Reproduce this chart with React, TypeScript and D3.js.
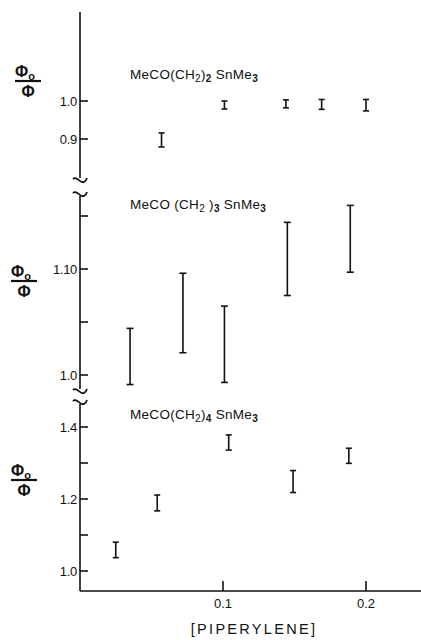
import React from "react";
import * as d3 from "d3";

// ---- data ----
const xTicks = [0.1, 0.2];
const xTickLabels = ["0.1", "0.2"];
const xTitle = "[PIPERYLENE]";

// Panel 1: MeCO(CH2)2SnMe3
const p1X = [0.057, 0.101, 0.144, 0.169, 0.2];
const p1Lo = [0.879, 0.979, 0.982, 0.978, 0.974];
const p1Hi = [0.916, 1.0, 1.003, 1.004, 1.004];
const p1Ticks = [0.9, 1.0];
const p1TickLabels = ["0.9", "1.0"];

// Panel 2: MeCO(CH2)3SnMe3
const p2X = [0.035, 0.072, 0.101, 0.145, 0.189];
const p2Lo = [0.991, 1.021, 0.993, 1.075, 1.097];
const p2Hi = [1.044, 1.096, 1.065, 1.144, 1.16];
const p2Ticks = [1.0, 1.05, 1.1, 1.15];
const p2TickLabels = ["1.0", "", "1.10", ""];

// Panel 3: MeCO(CH2)4SnMe3
const p3X = [0.025, 0.054, 0.104, 0.149, 0.188];
const p3Lo = [1.037, 1.167, 1.336, 1.218, 1.299];
const p3Hi = [1.08, 1.211, 1.378, 1.279, 1.341];
const p3Ticks = [1.0, 1.1, 1.2, 1.3, 1.4];
const p3TickLabels = ["1.0", "", "1.2", "", "1.4"];

const FONT = "'Liberation Sans', Arial, sans-serif";

const W = 421;
const H = 640;
const AX = 80; // y-axis x position
const XAXIS_Y = 591;

const x = d3.scaleLinear().domain([0, 0.1]).range([AX, 223]);

type Panel = {
  xs: number[];
  lo: number[];
  hi: number[];
  ticks: number[];
  labels: string[];
  y: d3.ScaleLinear<number, number>;
  top: number;
  bottom: number;
  topBreak: boolean;
  bottomBreak: boolean;
  capW: number;
  sub: string;
  spaced: boolean;
  labelY: number;
  fracY: number;
  fracX: number;
};

const panels: Panel[] = [
  {
    xs: p1X, lo: p1Lo, hi: p1Hi, ticks: p1Ticks, labels: p1TickLabels,
    y: d3.scaleLinear().domain([0.9, 1.0]).range([139, 101]),
    top: 12, bottom: 178, topBreak: false, bottomBreak: true, capW: 6,
    sub: "2", spaced: false, labelY: 79, fracY: 81, fracX: 28,
  },
  {
    xs: p2X, lo: p2Lo, hi: p2Hi, ticks: p2Ticks, labels: p2TickLabels,
    y: d3.scaleLinear().domain([1.0, 1.1]).range([375, 269]),
    top: 196, bottom: 389, topBreak: true, bottomBreak: true, capW: 7,
    sub: "3", spaced: true, labelY: 209, fracY: 281, fracX: 24,
  },
  {
    xs: p3X, lo: p3Lo, hi: p3Hi, ticks: p3Ticks, labels: p3TickLabels,
    y: d3.scaleLinear().domain([1.0, 1.4]).range([571, 427]),
    top: 404, bottom: XAXIS_Y, topBreak: true, bottomBreak: false, capW: 6,
    sub: "4", spaced: false, labelY: 419, fracY: 480, fracX: 24,
  },
];

function tilde(cx: number, cy: number) {
  const p = d3.path();
  p.moveTo(cx - 7, cy - 1);
  p.bezierCurveTo(cx - 3, cy - 5, cx + 0, cy + 4, cx + 4, cy + 2);
  p.quadraticCurveTo(cx + 6, cy + 1, cx + 7, cy - 2);
  return p.toString();
}

function Frac({ cx, cy }: { cx: number; cy: number }) {
  return (
    <g fontFamily={FONT} fontWeight="bold" fill="#111">
      <text x={cx - 3} y={cy - 4} fontSize={16} textAnchor="middle">
        Φ
        <tspan fontSize={11} dy={3}>o</tspan>
      </text>
      <line x1={cx - 13} x2={cx + 13} y1={cy} y2={cy} stroke="#111" strokeWidth={2.2} />
      <text x={cx} y={cy + 16} fontSize={16} textAnchor="middle">Φ</text>
    </g>
  );
}

function CompoundLabel({ yPos, sub, spaced }: { yPos: number; sub: string; spaced: boolean }) {
  const s = spaced ? " " : "";
  return (
    <text x={130} y={yPos} fontFamily={FONT} fontSize={13.5} fill="#111" letterSpacing={0.3}>
      {`MeCO${s}(CH`}
      <tspan fontSize={10} dy={3}>2</tspan>
      <tspan dy={-3}>{`${s})`}</tspan>
      <tspan fontSize={10} dy={3} fontWeight="bold">{sub}</tspan>
      <tspan dy={-3}>{" SnMe"}</tspan>
      <tspan fontSize={10} dy={3} fontWeight="bold">3</tspan>
    </text>
  );
}

export default function App() {
  return (
    <svg
      width={W}
      height={H}
      viewBox={`0 0 ${W} ${H}`}
      style={{ position: "absolute", left: 0, top: 0, background: "#fff" }}
    >
      <rect width={W} height={H} fill="#fff" />
      {panels.map((p, pi) => (
        <g key={pi}>
          {/* axis segment */}
          <line x1={AX} x2={AX} y1={p.top} y2={p.bottom} stroke="#111" strokeWidth={1.6} />
          {p.bottomBreak && (
            <path d={tilde(AX, p.bottom + 2)} fill="none" stroke="#111" strokeWidth={1.8} />
          )}
          {p.topBreak && (
            <path d={tilde(AX, p.top - 2)} fill="none" stroke="#111" strokeWidth={1.8} />
          )}
          {/* ticks */}
          {p.ticks.map((t, i) => (
            <g key={i}>
              <line x1={AX} x2={AX + 8} y1={p.y(t)} y2={p.y(t)} stroke="#111" strokeWidth={1.6} />
              {p.labels[i] && (
                <text
                  x={AX - 3}
                  y={p.y(t) + 4.5}
                  textAnchor="end"
                  fontFamily={FONT}
                  fontSize={13}
                  fill="#111"
                  letterSpacing={-0.3}
                >
                  {p.labels[i]}
                </text>
              )}
            </g>
          ))}
          {/* error bars */}
          {p.xs.map((xv, i) => {
            const cx = x(xv);
            const y1 = p.y(p.hi[i]);
            const y2 = p.y(p.lo[i]);
            return (
              <g key={i} stroke="#111" strokeWidth={1.6}>
                <line x1={cx} x2={cx} y1={y1} y2={y2} />
                <line x1={cx - p.capW / 2} x2={cx + p.capW / 2} y1={y1} y2={y1} />
                <line x1={cx - p.capW / 2} x2={cx + p.capW / 2} y1={y2} y2={y2} />
              </g>
            );
          })}
          <CompoundLabel yPos={p.labelY} sub={p.sub} spaced={p.spaced} />
          <Frac cx={p.fracX} cy={p.fracY} />
        </g>
      ))}
      {/* x axis */}
      <line x1={AX} x2={W} y1={XAXIS_Y} y2={XAXIS_Y} stroke="#111" strokeWidth={1.6} />
      {xTicks.map((t, i) => (
        <g key={i}>
          <line x1={x(t)} x2={x(t)} y1={XAXIS_Y} y2={XAXIS_Y - 10} stroke="#111" strokeWidth={1.6} />
          <text
            x={x(t)}
            y={608}
            textAnchor="middle"
            fontFamily={FONT}
            fontSize={13}
            fill="#111"
          >
            {xTickLabels[i]}
          </text>
        </g>
      ))}
      <text
        x={254}
        y={634}
        textAnchor="middle"
        fontFamily={FONT}
        fontSize={14.5}
        letterSpacing={2.3}
        fill="#111"
      >
        {xTitle}
      </text>
    </svg>
  );
}
